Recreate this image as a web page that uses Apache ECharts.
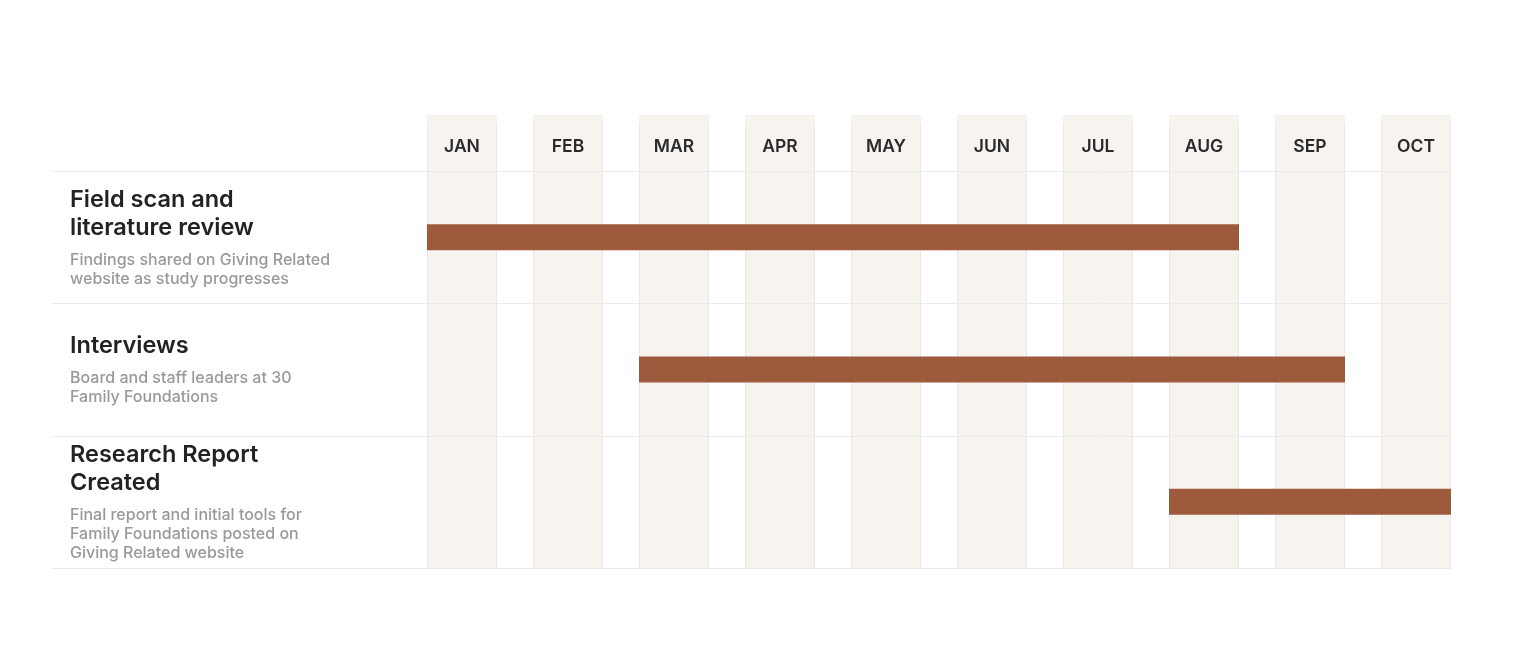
<!DOCTYPE html>
<html>
<head>
<meta charset="utf-8">
<script src="https://cdn.jsdelivr.net/npm/echarts@6/dist/echarts.min.js"></script>
<style>
    html, body { margin: 0; padding: 0; background: #ffffff; }
    #timeline { width: 1536px; height: 648px; }
</style>
</head>
<body>
<div id="timeline"></div>
<script>
const months = ["JAN", "FEB", "MAR", "APR", "MAY", "JUN", "JUL", "AUG", "SEP", "OCT"];
const taskTitles = ["Field scan and\nliterature review", "Interviews", "Research Report\nCreated"];
const taskNotes = [
    "Findings shared on Giving Related\nwebsite as study progresses",
    "Board and staff leaders at 30\nFamily Foundations",
    "Final report and initial tools for\nFamily Foundations posted on\nGiving Related website"
];
// month index where each task starts and the month where it ends (inclusive)
const taskStart = [0, 2, 7];
const taskEnd = [7, 8, 9];

const COL_W = 70 / 106;      // shaded column width, as share of one month
const HEADER_H = 56;         // header band above the grid
const FONT = "Inter, 'Noto Sans', sans-serif";

const chart = echarts.init(document.getElementById("timeline"));

function renderBand(params, api) {
    const i = api.value(0);
    const cs = params.coordSys;
    const x0 = api.coord([i, 0])[0];
    const x1 = api.coord([i + COL_W, 0])[0];
    const top = cs.y - HEADER_H;
    const bottom = cs.y + cs.height;
    const edge = { stroke: "#ebe7e2", lineWidth: 1 };
    return {
        type: "group",
        children: [
            { type: "rect", shape: { x: x0, y: top, width: x1 - x0, height: bottom - top }, style: { fill: "#f7f4f0" } },
            { type: "line", shape: { x1: x0 + 0.5, y1: top + 8, x2: x0 + 0.5, y2: bottom }, style: edge },
            { type: "line", shape: { x1: x1 - 0.5, y1: top + 8, x2: x1 - 0.5, y2: bottom }, style: edge },
            {
                type: "text",
                style: {
                    x: (x0 + x1) / 2, y: cs.y - 24,
                    text: months[i],
                    fill: "#2a2a2a",
                    font: "600 17.5px " + FONT,
                    align: "center", verticalAlign: "middle"
                }
            }
        ]
    };
}

function renderRowLine(params, api) {
    const row = api.value(0);
    const cs = params.coordSys;
    const cy = api.coord([0, row])[1];
    const h = api.size([0, 1])[1];
    const lines = [];
    const ys = row === 0 ? [cy - h / 2, cy + h / 2] : [cy + h / 2];
    ys.forEach(y => {
        lines.push({
            type: "line",
            shape: { x1: 52, y1: Math.round(y) + 0.5, x2: cs.x + cs.width, y2: Math.round(y) + 0.5 },
            style: { stroke: "#ebebeb", lineWidth: 1 }
        });
    });
    return { type: "group", children: lines };
}

function renderBar(params, api) {
    const row = api.value(0);
    const start = api.coord([api.value(1), row]);
    const end = api.coord([api.value(2) + COL_W, row]);
    const barH = 26;
    return {
        type: "rect",
        shape: { x: start[0], y: start[1] - barH / 2, width: end[0] - start[0], height: barH },
        style: { fill: "#9e5a3c" }
    };
}

function labelFor(value, index) {
    const t = taskTitles[index].split("\n").map(s => `{t|${s}}`);
    const n = taskNotes[index].split("\n").map(s => `{s|${s}}`);
    return t.concat(["{g|}"], n).join("\n");
}

chart.setOption({
    animation: false,
    backgroundColor: "#ffffff",
    grid: { left: 427, right: 85, top: 171, bottom: 80 },
    xAxis: {
        type: "value",
        min: 0,
        max: months.length - 1 + COL_W,
        show: false
    },
    yAxis: {
        type: "category",
        inverse: true,
        data: taskTitles,
        axisLine: { show: false },
        axisTick: { show: false },
        splitLine: { show: false },
        axisLabel: {
            align: "left",
            margin: 357,
            formatter: labelFor,
            rich: {
                t: { fontFamily: FONT, fontSize: 23.5, fontWeight: 600, lineHeight: 28, color: "#222222" },
                g: { lineHeight: 9, fontSize: 9 },
                s: { fontFamily: FONT, fontSize: 16, fontWeight: 500, lineHeight: 19, color: "#999999" }
            }
        }
    },
    series: [
        {
            type: "custom",
            renderItem: renderBand,
            clip: false,
            silent: true,
            data: months.map((m, i) => [i, m]),
            z: 1
        },
        {
            type: "custom",
            renderItem: renderRowLine,
            clip: false,
            silent: true,
            data: taskTitles.map((t, i) => [i]),
            z: 2
        },
        {
            type: "custom",
            renderItem: renderBar,
            encode: { x: [1, 2], y: 0 },
            data: taskTitles.map((t, i) => [i, taskStart[i], taskEnd[i]]),
            z: 3
        }
    ]
});

window.addEventListener("resize", () => chart.resize());
</script>
</body>
</html>
